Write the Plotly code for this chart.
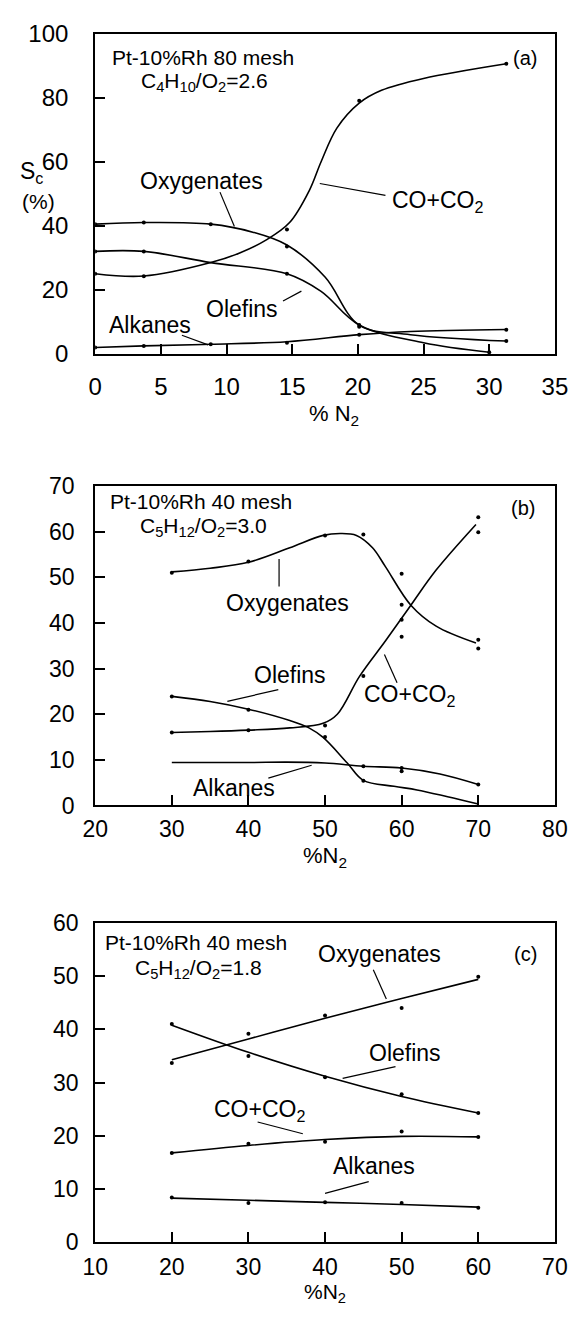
import plotly.graph_objects as go

# ---------------- data ----------------
# (a) Pt-10%Rh 80 mesh, C4H10/O2 = 2.6
a_oxy_x = [0, 3.7, 8.8, 14.6, 20.1, 31.3]
a_oxy_y = [40.5, 41, 40.5, 33.5, 8.5, 4]
a_oxy_fit_x = [0, 3.7, 8.8, 12, 14.6, 17.5, 20.1, 24, 31.3]
a_oxy_fit_y = [40.5, 41, 40.5, 38, 34, 24, 9, 6, 4]

a_ole_x = [0, 3.7, 14.6, 20.1, 30]
a_ole_y = [32, 32, 25, 9, 0.5]
a_ole_fit_x = [0, 3.7, 8.8, 14.6, 17.2, 20.1, 25, 30]
a_ole_fit_y = [32, 32, 28.5, 25, 19.5, 9, 3.5, 0.5]

a_co_x = [0, 3.7, 14.6, 20.1, 31.3]
a_co_y = [25, 24.2, 38.8, 79, 90.6]
a_co_fit_x = [0, 3.7, 8.8, 11, 13, 14.8, 16.3, 17.2, 18.4, 20.1, 21.8, 25, 31.3]
a_co_fit_y = [25, 24.3, 28.5, 31.5, 35.5, 41, 51, 60, 70.5, 78.3, 82.3, 86, 90.6]

a_alk_x = [0, 3.7, 8.8, 14.6, 20.1, 31.3]
a_alk_y = [2, 2.5, 3, 3.5, 6, 7.5]
a_alk_fit_x = [0, 3.7, 8.8, 14.6, 20.1, 24, 31.3]
a_alk_fit_y = [2, 2.5, 3, 3.8, 6, 7, 7.6]

# (b) Pt-10%Rh 40 mesh, C5H12/O2 = 3.0
b_oxy_x = [30, 40, 50, 55, 60, 60, 70, 70]
b_oxy_y = [51, 53.5, 59.2, 59.4, 50.8, 44, 36.3, 34.4]
b_oxy_fit_x = [30, 35, 40, 45.4, 49.75, 52, 54.1, 56.2, 57.9, 61.2, 64.5, 69.7]
b_oxy_fit_y = [51.2, 52, 53.3, 56.5, 59.2, 59.6, 59.2, 56.5, 52.3, 43.9, 39.3, 35.6]

b_co_x = [30, 40, 50, 55, 60, 60, 70, 70]
b_co_y = [16, 16.5, 17.5, 28.4, 40.7, 37, 63.2, 59.9]
b_co_fit_x = [30, 35, 40, 45.4, 49.75, 51.6, 54.5, 57.9, 61.2, 64.5, 69.7]
b_co_fit_y = [16, 16.2, 16.5, 17, 18, 20, 28.3, 36.1, 43.9, 51.6, 61.6]

b_ole_x = [30, 40, 50, 55]
b_ole_y = [23.9, 21, 15, 5.4]
b_ole_fit_x = [30, 35, 40, 45.4, 47.9, 49.75, 52.9, 55, 59, 62, 66, 70]
b_ole_fit_y = [23.9, 22.8, 21.1, 18.6, 17, 14.9, 9.3, 5.5, 4.2, 3.4, 1.9, 0.3]

b_alk_x = [55, 60, 60, 70]
b_alk_y = [8.6, 8.2, 7.5, 4.6]
b_alk_fit_x = [30, 40, 45, 50, 55, 60, 65, 70]
b_alk_fit_y = [9.4, 9.4, 9.5, 9.3, 8.6, 8.2, 6.9, 4.6]

# (c) Pt-10%Rh 40 mesh, C5H12/O2 = 1.8
c_x = [20, 30, 40, 50, 60]
c_oxy_y = [33.7, 39.2, 42.6, 44, 49.9]
c_oxy_fit_y = [34.3, 38.2, 42.1, 45.8, 49.4]
c_ole_y = [41, 35, 31, 27.8, 24.3]
c_ole_fit_y = [40.8, 35.7, 31.2, 27.4, 24.3]
c_co_y = [16.8, 18.5, 18.9, 20.8, 19.8]
c_co_fit_y = [16.8, 18.2, 19.3, 19.9, 19.8]
c_alk_y = [8.4, 7.4, 7.5, 7.4, 6.5]
c_alk_fit_y = [8.3, 7.9, 7.5, 7.1, 6.6]

# axis ranges and ticks
a_xrange, a_yrange = [0, 35], [0, 100]
b_xrange, b_yrange = [20, 80], [0, 70]
c_xrange, c_yrange = [10, 70], [0, 60]
a_xticks, a_yticks = [0, 5, 10, 15, 20, 25, 30, 35], [0, 20, 40, 60, 80, 100]
b_xticks, b_yticks = [20, 30, 40, 50, 60, 70, 80], [0, 10, 20, 30, 40, 50, 60, 70]
c_xticks, c_yticks = [10, 20, 30, 40, 50, 60, 70], [0, 10, 20, 30, 40, 50, 60]

# ---------------- layout geometry ----------------
W, H = 587, 1317
X0, X1 = 86, 567
PANELS = {"": (20, 347), "2": (482, 808), "3": (928, 1254)}
FONT = "Liberation Sans, Arial, Helvetica, sans-serif"


def ydom(top, bottom):
    return [1 - bottom / H, 1 - top / H]


fig = go.Figure()


def add_series(ax, fit_x, fit_y, pts_x, pts_y):
    xa, ya = "x" + ax, "y" + ax
    fig.add_trace(go.Scatter(x=fit_x, y=fit_y, mode="lines", xaxis=xa, yaxis=ya,
                             line=dict(color="black", width=1.6, shape="spline", smoothing=1.0),
                             showlegend=False, hoverinfo="skip"))
    fig.add_trace(go.Scatter(x=pts_x, y=pts_y, mode="markers", xaxis=xa, yaxis=ya,
                             marker=dict(color="black", size=4),
                             showlegend=False))


add_series("", a_oxy_fit_x, a_oxy_fit_y, a_oxy_x, a_oxy_y)
add_series("", a_ole_fit_x, a_ole_fit_y, a_ole_x, a_ole_y)
add_series("", a_co_fit_x, a_co_fit_y, a_co_x, a_co_y)
add_series("", a_alk_fit_x, a_alk_fit_y, a_alk_x, a_alk_y)

add_series("2", b_oxy_fit_x, b_oxy_fit_y, b_oxy_x, b_oxy_y)
add_series("2", b_co_fit_x, b_co_fit_y, b_co_x, b_co_y)
add_series("2", b_ole_fit_x, b_ole_fit_y, b_ole_x, b_ole_y)
add_series("2", b_alk_fit_x, b_alk_fit_y, b_alk_x, b_alk_y)

add_series("3", c_x, c_oxy_fit_y, c_x, c_oxy_y)
add_series("3", c_x, c_ole_fit_y, c_x, c_ole_y)
add_series("3", c_x, c_co_fit_y, c_x, c_co_y)
add_series("3", c_x, c_alk_fit_y, c_x, c_alk_y)


def axis_style(rng, ticks, standoff, size):
    return dict(range=rng, tickvals=ticks, ticktext=[str(t) for t in ticks],
                showline=True, mirror=True, linecolor="black", linewidth=2,
                ticks="inside", ticklen=10, tickwidth=1.5, tickcolor="black",
                showgrid=False, zeroline=False, ticklabelstandoff=standoff,
                tickfont=dict(family=FONT, size=size, color="black"), fixedrange=True)


layout = dict(width=W, height=H, margin=dict(l=0, r=0, t=0, b=0),
              paper_bgcolor="white", plot_bgcolor="white", showlegend=False)

# per panel: x range, y range, x ticks, y ticks, x label gap, y label gap, font size
specs = {"": (a_xrange, a_yrange, a_xticks, a_yticks, 10, 20, 24),
         "2": (b_xrange, b_yrange, b_xticks, b_yticks, 2, 14, 23),
         "3": (c_xrange, c_yrange, c_xticks, c_yticks, 3, 10, 23)}
for ax, (xr, yr, xt, yt, xs, ys, fs) in specs.items():
    top, bottom = PANELS[ax]
    xd = axis_style(xr, xt, xs, fs)
    xd.update(domain=[X0 / W, X1 / W], anchor="y" + ax)
    yd = axis_style(yr, yt, ys, fs)
    yd.update(domain=ydom(top, bottom), anchor="x" + ax)
    layout["xaxis" + ax] = xd
    layout["yaxis" + ax] = yd

fig.update_layout(**layout)

annotations = []
shapes = []


def label(ax, x, y, text, size=23):
    annotations.append(dict(x=x, y=y, xref="x" + ax, yref="y" + ax, text=text,
                            showarrow=False, xanchor="center", yanchor="middle",
                            font=dict(family=FONT, size=size, color="black")))


def leader(ax, x0, y0, x1, y1):
    shapes.append(dict(type="line", xref="x" + ax, yref="y" + ax, x0=x0, y0=y0, x1=x1, y1=y1,
                       line=dict(color="black", width=1.2)))


def paper_text(px, py, text, size=22, xanchor="center", yanchor="middle"):
    annotations.append(dict(x=px / W, y=1 - py / H, xref="paper", yref="paper", text=text,
                            showarrow=False, xanchor=xanchor, yanchor=yanchor,
                            font=dict(family=FONT, size=size, color="black")))


# panel (a)
label("", 8.2, 92.4, "Pt-10%Rh 80 mesh", 21)
label("", 8.35, 85.0, "C<sub>4</sub>H<sub>10</sub>/O<sub>2</sub>=2.6", 21)
label("", 32.75, 92.4, "(a)", 20)
label("", 8.06, 54.1, "Oxygenates")
leader("", 9.5, 50.5, 10.6, 39.8)
label("", 11.2, 14.1, "Olefins")
leader("", 14.3, 16.5, 15.7, 19.6)
label("", 4.2, 8.9, "Alkanes")
leader("", 6.6, 5.8, 8.6, 2.8)
label("", 26.1, 47.5, "CO+CO<sub>2</sub>")
leader("", 22.1, 49.5, 17.1, 53.2)
paper_text(5, 162, "S<sub>c</sub>", 23, xanchor="left")
paper_text(7, 191, "(%)", 21, xanchor="left")
paper_text(336, 393, "% N<sub>2</sub>", 22, yanchor="top")

# panel (b)
label("2", 33.75, 66.7, "Pt-10%Rh 40 mesh", 21)
label("2", 34.1, 61.0, "C<sub>5</sub>H<sub>12</sub>/O<sub>2</sub>=3.0", 21)
label("2", 75.9, 65.2, "(b)", 20)
label("2", 45.1, 44.3, "Oxygenates")
leader("2", 44, 54, 44, 48)
label("2", 45.4, 28.6, "Olefins")
leader("2", 43.9, 25.4, 37.25, 22.8)
label("2", 61.0, 24.0, "CO+CO<sub>2</sub>")
leader("2", 59.4, 26.9, 57.75, 33.1)
label("2", 38.1, 3.9, "Alkanes")
leader("2", 42.6, 6.0, 48.25, 8.8)
paper_text(326, 844, "%N<sub>2</sub>", 22, yanchor="top")

# panel (c)
label("3", 23.2, 56.4, "Pt-10%Rh 40 mesh", 21)
label("3", 23.5, 51.4, "C<sub>5</sub>H<sub>12</sub>/O<sub>2</sub>=1.8", 21)
label("3", 66.1, 54.1, "(c)", 20)
label("3", 47.1, 54.1, "Oxygenates")
leader("3", 46.3, 51.2, 48.0, 45.7)
label("3", 50.5, 35.5, "Olefins")
leader("3", 49.2, 33.0, 42.3, 30.8)
label("3", 31.4, 24.8, "CO+CO<sub>2</sub>")
leader("3", 31.2, 22.6, 37.1, 20.4)
label("3", 46.4, 14.4, "Alkanes")
leader("3", 45.7, 11.4, 40.0, 9.2)
paper_text(326, 1290, "%N<sub>2</sub>", 21, yanchor="top")

fig.update_layout(annotations=annotations, shapes=shapes)
fig.write_html("out.html")
